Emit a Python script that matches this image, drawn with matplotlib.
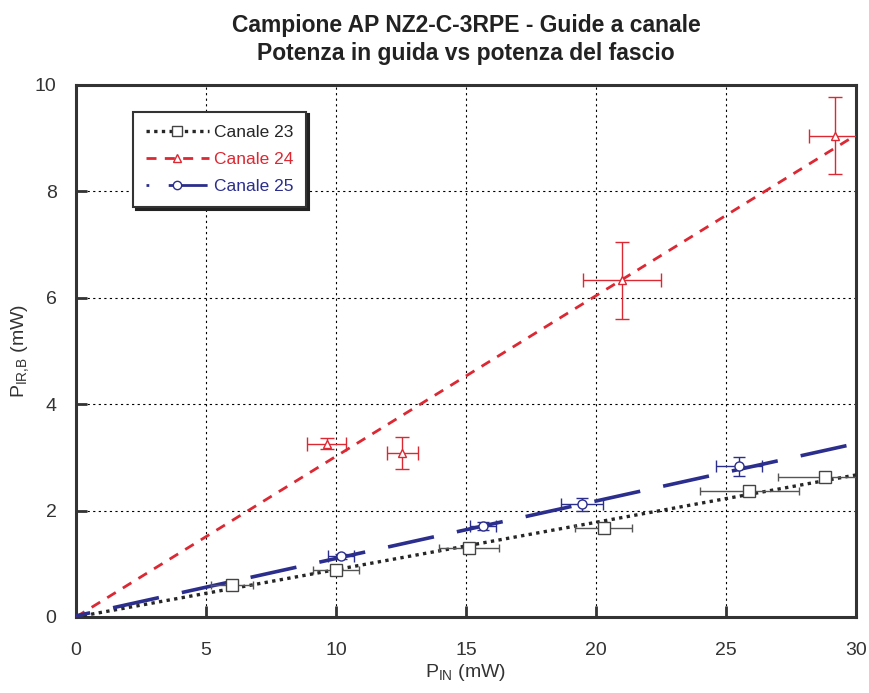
import numpy as np
import matplotlib.pyplot as plt
from matplotlib.lines import Line2D

plt.rcParams['font.family'] = ['Liberation Sans', 'DejaVu Sans']

# Canale 23
p_in_23 = [6.0, 10.0, 15.1, 20.3, 25.9, 28.8]
p_out_23 = [0.60, 0.88, 1.30, 1.68, 2.37, 2.63]
xerr_23 = [0.8, 0.9, 1.15, 1.1, 1.9, 1.8]
yerr_23 = [0.05, 0.08, 0.06, 0.08, 0.10, 0.10]

# Canale 24
p_in_24 = [9.65, 12.55, 21.0, 29.2]
p_out_24 = [3.26, 3.08, 6.33, 9.05]
xerr_24 = [0.75, 0.6, 1.5, 1.0]
yerr_24 = [0.10, 0.30, 0.72, 0.73]

# Canale 25
p_in_25 = [10.2, 15.65, 19.45, 25.5]
p_out_25 = [1.14, 1.71, 2.12, 2.83]
xerr_25 = [0.5, 0.5, 0.8, 0.9]
yerr_25 = [0.05, 0.07, 0.12, 0.18]

# linear fits (slope, intercept)
fit_23 = (0.089, 0.0)
fit_24 = (0.302, 0.0)
fit_25 = (0.108, 0.02)

c23 = '#262626'
c24 = '#dc2832'
c25 = '#2b2e8c'
txt = '#333333'

fig = plt.figure(figsize=(8.7, 6.93), dpi=100)
ax = fig.add_axes([0.0874, 0.1097, 0.8966, 0.7677])

xf = np.linspace(0, 30, 200)
ax.plot(xf, fit_23[0] * xf + fit_23[1], color=c23, lw=2.4, ls=(0, (1.0, 1.3)), zorder=3)
ax.plot(xf, fit_24[0] * xf + fit_24[1], color=c24, lw=2.0, ls=(0, (3.6, 3.0)), zorder=3)
ax.plot(xf, fit_25[0] * xf + fit_25[1], color=c25, lw=2.6, ls=(9, (13, 6.5)), zorder=3)

ax.errorbar(p_in_23, p_out_23, xerr=xerr_23, yerr=yerr_23, fmt='s', ms=8,
            mfc='white', mec='#444444', mew=1.0, ecolor='#555555', elinewidth=1.0,
            capsize=3, capthick=1.0, zorder=4)
ax.errorbar(p_in_24, p_out_24, xerr=xerr_24, yerr=yerr_24, fmt='^', ms=6,
            mfc='white', mec=c24, mew=1.0, ecolor=c24, elinewidth=1.0,
            capsize=5, capthick=1.0, zorder=4)
ax.errorbar(p_in_25, p_out_25, xerr=xerr_25, yerr=yerr_25, fmt='o', ms=6.5,
            mfc='white', mec=c25, mew=1.0, ecolor=c25, elinewidth=1.0,
            capsize=4, capthick=1.0, zorder=4)

ax.set_xlim(0, 30)
ax.set_ylim(0, 10)
ax.set_xticks(range(0, 31, 5))
ax.set_yticks(range(0, 11, 2))
ax.grid(True, color='black', lw=0.8, ls=(0, (2, 3)))
ax.tick_params(direction='in', length=8, width=2, colors=txt,
               labelsize=14, labelcolor=txt)
ax.tick_params(axis='x', pad=18)
ax.tick_params(axis='y', pad=14)
for s in ax.spines.values():
    s.set_linewidth(2.2)
    s.set_color(txt)

ax.set_xlabel(r'P$_{\mathregular{IN}}$ (mW)', fontsize=14, color=txt, labelpad=2)
ax.set_ylabel(r'P$_{\mathregular{IR{,}B}}$ (mW)', fontsize=14, color=txt, labelpad=2)
ax.set_title('Campione AP NZ2-C-3RPE - Guide a canale\nPotenza in guida vs potenza del fascio',
             fontsize=16.5, fontweight='bold', color='#222222', pad=18, linespacing=1.25)

handles = [
    Line2D([], [], color=c23, lw=2.4, ls=(0, (1.0, 1.3)), marker='s', ms=7,
           mfc='white', mec='#444444', mew=1.0),
    Line2D([], [], color=c24, lw=2.0, ls=(0, (3.6, 3.0)), marker='^', ms=6,
           mfc='white', mec=c24, mew=1.0),
    Line2D([], [], color=c25, lw=2.0, ls=(0, (1, 7, 14, 6)), marker='o', ms=6,
           mfc='white', mec=c25, mew=1.0),
]
leg = ax.legend(handles, ['Canale 23', 'Canale 24', 'Canale 25'],
                loc='upper left', bbox_to_anchor=(0.073, 0.95), fontsize=12.5,
                handlelength=3.6, handletextpad=0.3, labelspacing=0.7,
                borderpad=0.75, borderaxespad=0, fancybox=False, framealpha=1,
                edgecolor=txt, shadow={'color': '#222222', 'alpha': 1.0},
                labelcolor=[c23, c24, c25])
leg.get_frame().set_linewidth(1.5)
leg.set_zorder(6)

fig.savefig('out.png', dpi=100)
